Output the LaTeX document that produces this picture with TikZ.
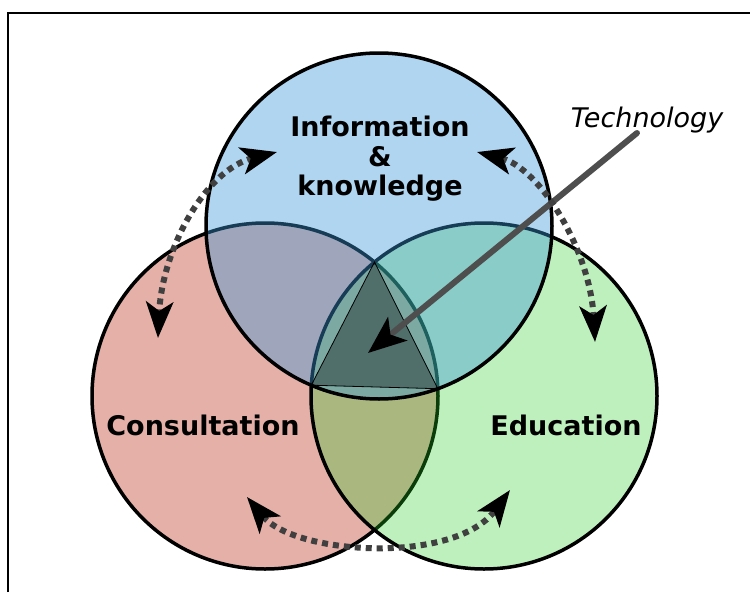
\documentclass[tikz,border=0pt]{standalone}
\usepackage{fontspec}
\setmainfont{DejaVu Sans}
\usetikzlibrary{arrows.meta}

\definecolor{consultred}{RGB}{228,176,168}
\definecolor{educgreen}{RGB}{38,205,38}
\definecolor{infoblue}{RGB}{57,150,217}
\definecolor{dotgray}{RGB}{64,64,64}
\definecolor{techgray}{RGB}{78,78,78}

\tikzset{
  ring/.style={draw=black, line width=3.5pt},
  cyclearrow/.style={dotgray, line width=6pt, dash pattern=on 6pt off 5pt,
    arrows={Stealth[length=36pt,width=27pt,inset=9pt,color=black]-Stealth[length=36pt,width=27pt,inset=9pt,color=black]}},
  venntext/.style={font=\fontsize{27}{29.5}\selectfont\bfseries, inner sep=0pt, align=center},
}

\begin{document}
\begin{tikzpicture}[x=1pt,y=-1pt]
                \useasboundingbox (0,0) rectangle (750,592);

                %% frame
                \draw[black, line width=1.5pt] (8,592) -- (8,13) -- (750,13);

                %% circles
                \draw[ring, fill=consultred] (265,396) circle (173);
                \draw[ring, fill=educgreen, fill opacity=0.3] (484,396) circle (173);
                \draw[ring, fill=infoblue, fill opacity=0.4] (379,226) circle (173);

                %core
                \coordinate (coretop) at (374.5,262);
                \coordinate (coreleft) at (311.3,385.2);
                \coordinate (coreright) at (437.9,388.7);
                \draw[black, line width=0.8pt, fill=black, fill opacity=0.35] (coretop) -- (coreleft) -- (coreright) -- cycle;

                %Technology
                \node[font=\fontsize{27}{28}\selectfont\itshape, anchor=base, inner sep=0pt] (tech) at (647,127) {Technology};
                \coordinate (techfoot) at (637,133);
                \coordinate (techtip) at (368,353);
                \draw[techgray, line width=6pt, line cap=round,
                      arrows={-Stealth[length=38pt,width=30pt,inset=9pt,color=black]}] (techfoot) -- (techtip);

                %% cycle arrows
                \coordinate (infoleft) at (277,152);
                \coordinate (consulttop) at (158,338);
                \coordinate (inforight) at (477,152);
                \coordinate (eductop) at (595,342);
                \coordinate (consultlow) at (247,497);
                \coordinate (educlow) at (510,490);

                \draw[cyclearrow] (infoleft) .. controls (205,170) and (162,250) .. (consulttop);
                \draw[cyclearrow] (inforight) .. controls (540,168) and (590,250) .. (eductop);
                \draw[cyclearrow] (consultlow) .. controls (295,555) and (455,565) .. (educlow);

                %% labels
                \node[venntext] (info) at (380,159) {Information\\\&\\knowledge};
                \node[venntext, anchor=base] (consult) at (203,435) {Consultation};
                \node[venntext, anchor=base] (educ) at (566,435) {Education};

\end{tikzpicture}
\end{document}
